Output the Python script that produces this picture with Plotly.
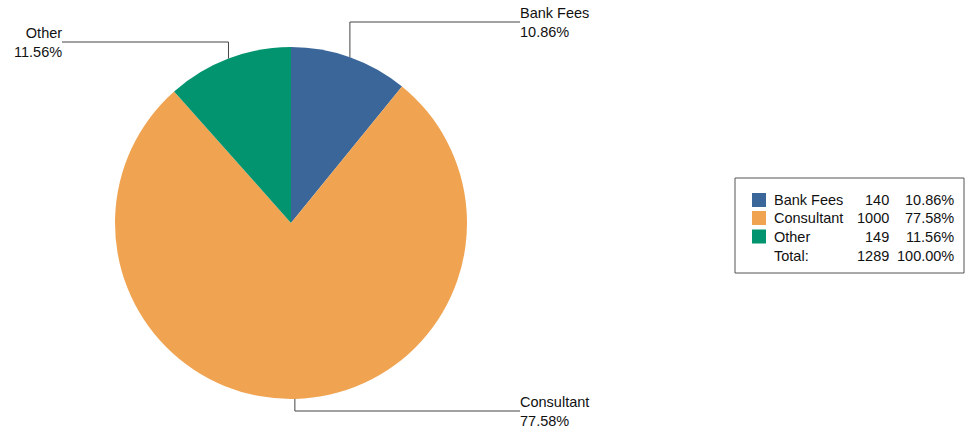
import math
import plotly.graph_objects as go

# ---- data ----
categories = ["Bank Fees", "Consultant", "Other"]
values = [140, 1000, 149]
colors = ["#3a6699", "#f0a452", "#02936f"]

W, H = 975, 434
total = sum(values)
pcts = [v / total * 100 for v in values]

# pie geometry (pixels in the screenshot)
cx, cy, r = 291, 223, 176

def px(x):
    return x / W

def py(y):
    return 1 - y / H

fig = go.Figure()
fig.add_trace(go.Pie(
    labels=categories,
    values=values,
    sort=False,
    direction="clockwise",
    rotation=0,
    textinfo="none",
    marker=dict(colors=colors, line=dict(width=0)),
    showlegend=False,
    domain=dict(x=[px(cx - r), px(cx + r)], y=[py(cy + r), py(cy - r)]),
))

shapes = []
annotations = []
FONT = "Liberation Sans, Arial, sans-serif"
FS = 14.5
TXT = "#111111"
LINE = "#444444"

# leader label placement: (line end x, label y, side)
label_pos = {
    "Bank Fees": (520, 22, "right"),
    "Consultant": (520, 411, "right"),
    "Other": (62, 42, "left"),
}

def ann(x, y, text, xanchor, align="left"):
    return dict(x=px(x), y=py(y), xref="paper", yref="paper", text=text,
                showarrow=False, xanchor=xanchor, yanchor="middle", align=align,
                borderpad=0, font=dict(family=FONT, size=FS, color=TXT))

cum = 0
for cat, v, p in zip(categories, values, pcts):
    mid = (cum + v / 2) / total * 2 * math.pi
    cum += v
    ex = cx + r * math.sin(mid)
    ey = cy - r * math.cos(mid)
    lx, ly, side = label_pos[cat]
    shapes.append(dict(type="line", xref="paper", yref="paper",
                       x0=px(ex), y0=py(ey), x1=px(ex), y1=py(ly),
                       line=dict(color=LINE, width=1)))
    shapes.append(dict(type="line", xref="paper", yref="paper",
                       x0=px(ex), y0=py(ly), x1=px(lx), y1=py(ly),
                       line=dict(color=LINE, width=1)))
    if side == "right":
        annotations.append(ann(lx - 1, ly, f"{cat}<br>{p:.2f}%", "left", "left"))
    else:
        annotations.append(ann(lx + 1, ly, f"{cat}<br>{p:.2f}%", "right", "right"))

# ---- custom table legend ----
bx0, by0, bx1, by1 = 735, 178, 964, 273
shapes.append(dict(type="rect", xref="paper", yref="paper",
                   x0=px(bx0), y0=py(by0), x1=px(bx1), y1=py(by1),
                   line=dict(color="#555555", width=1), fillcolor="rgba(0,0,0,0)"))
row_y = [200, 218, 236.5]
sq = 14
for i, (cat, v, p, c) in enumerate(zip(categories, values, pcts, colors)):
    y = row_y[i]
    shapes.append(dict(type="rect", xref="paper", yref="paper",
                       x0=px(752), y0=py(y - sq / 2), x1=px(752 + sq), y1=py(y + sq / 2),
                       line=dict(width=0), fillcolor=c))
    annotations.append(ann(773, y, cat, "left"))
    annotations.append(ann(890, y, f"{v}", "right"))
    annotations.append(ann(955, y, f"{p:.2f}%", "right"))
ty = 256
annotations.append(ann(773, ty, "Total:", "left"))
annotations.append(ann(890, ty, f"{total}", "right"))
annotations.append(ann(955, ty, f"{sum(pcts):.2f}%", "right"))

fig.update_layout(
    width=W, height=H,
    margin=dict(l=0, r=0, t=0, b=0),
    paper_bgcolor="white", plot_bgcolor="white",
    shapes=shapes, annotations=annotations,
    showlegend=False,
)
fig.write_html("out.html",
               config={"displayModeBar": False},
               post_script="document.body.style.margin='0px';document.body.style.overflow='hidden';")
